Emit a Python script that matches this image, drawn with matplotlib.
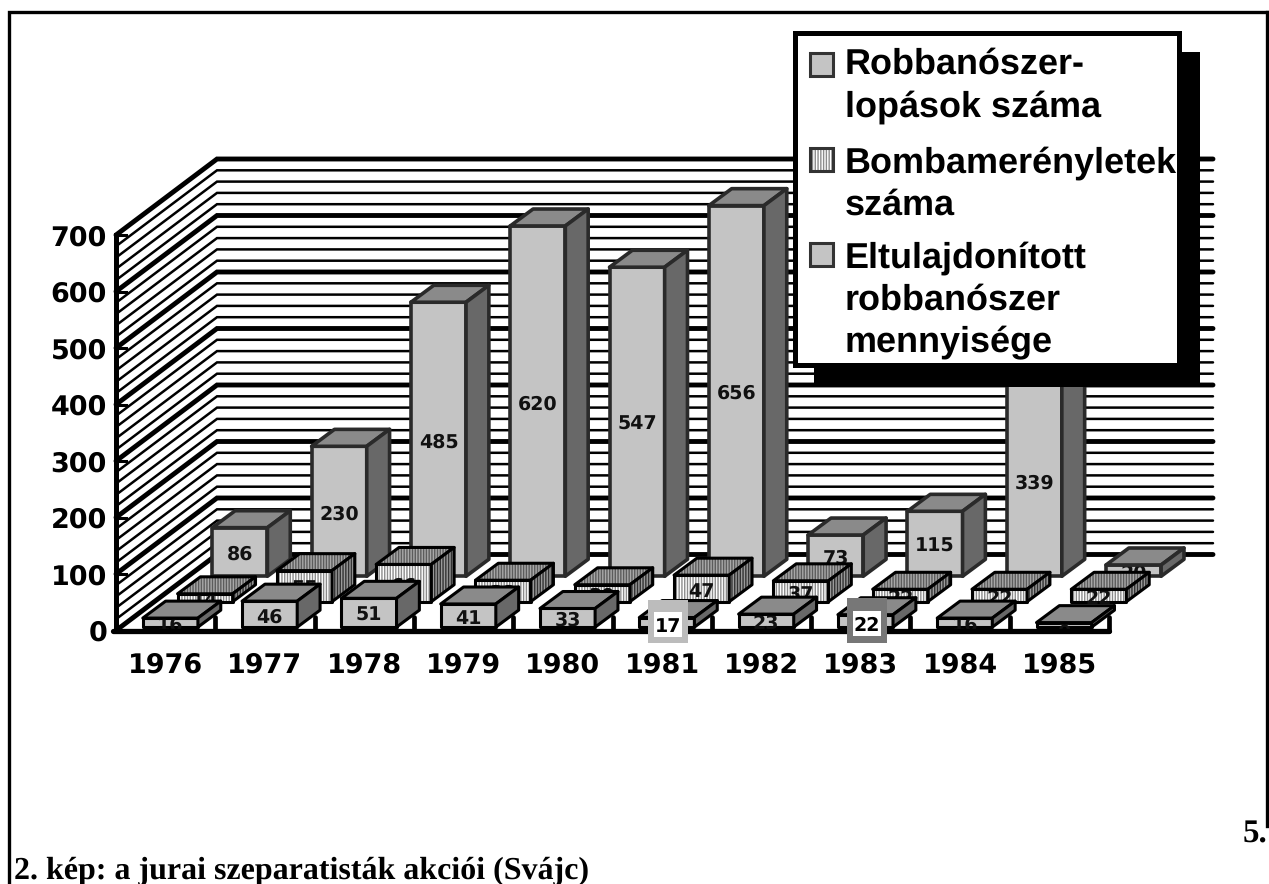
"""Jura separatist actions chart: hand built 3D-style bars on a sheared wall."""

import matplotlib
matplotlib.use("Agg")
import matplotlib.pyplot as plt
from matplotlib.patches import Polygon, Rectangle
from matplotlib.transforms import Affine2D

W, H = 1269, 884

years = ["1976", "1977", "1978", "1979", "1980", "1981", "1982", "1983", "1984", "1985"]
thefts = [16, 46, 51, 41, 33, 17, 23, 22, 16, 8]
bombings = [14, 55, 66, 38, 30, 47, 37, 22, 22, 22]
stolen = [86, 230, 485, 620, 547, 656, 73, 115, 339, 20]
y_ticks = [0, 100, 200, 300, 400, 500, 600, 700]
grid_values = list(range(0, 701, 20))
legend_labels = ["Robbanószer-\nlopások száma", "Bombamerényletek\nszáma",
                 "Eltulajdonított\nrobbanószer\nmennyisége"]

# axis scale: pixels per category / per value, and where the origin sits
X0, Y0 = 116, 630.5
PX_CAT, PX_VAL = 99.3, 0.565
WALL_DX, WALL_DY = 101 / PX_CAT, 76 / PX_VAL
BAR_W = 0.555
BAR_OFF = 0.27
ROW_DX, ROW_DY = 0.35, 45
BASE_Y = 6
SIDE_DX, SIDE_DY = 0.23, 30

plt.rcParams["font.family"] = ["Liberation Sans", "DejaVu Sans"]
plt.rcParams["font.weight"] = "bold"
plt.rcParams["hatch.linewidth"] = 1.0
plt.rcParams["text.hinting"] = "no_hinting"
plt.rcParams["text.hinting_factor"] = 1

# the original numbers are widely tracked, DejaVu bold comes closest in width
number_font = ["DejaVu Sans"]

fig = plt.figure(figsize=(W / 100, H / 100), dpi=100, facecolor="white")
ax = fig.add_axes([0, 0, 1, 1])
ax.set_xlim(-X0 / PX_CAT, (W - X0) / PX_CAT)
ax.set_ylim((Y0 - H) / PX_VAL, Y0 / PX_VAL)
ax.axis("off")

# pixel coordinates with y running downwards, for layout things
px = Affine2D().scale(1, -1).translate(0, H)

z = [10]


def next_z():
    z[0] += 1
    return z[0]


def face(pts, fc, hatch_color=None, hatch=None, edge="black", lw=2.2):
    zz = next_z()
    ax.add_patch(Polygon(pts, closed=True, facecolor=fc, edgecolor=hatch_color or fc,
                         hatch=hatch, linewidth=0, zorder=zz))
    ax.add_patch(Polygon(pts, closed=True, fill=False, edgecolor=edge, linewidth=lw,
                         joinstyle="round", zorder=zz + 0.5))


def bar(cat, row, val, style, edge="black", lw=2.2):
    x = cat + BAR_OFF + row * ROW_DX
    y = BASE_Y + row * ROW_DY
    x2 = x + BAR_W
    top = y + val
    face([(x, y), (x2, y), (x2, top), (x, top)], *style["front"], edge=edge, lw=lw)
    # label sits a little under the middle of the front face
    ax.text(x + BAR_W / 2, y + val / 2 - 3 / PX_VAL, str(val), ha="center", va="center",
            family=number_font, fontsize=13.5, color="#111111", zorder=next_z())
    dx, dy = SIDE_DX, SIDE_DY
    face([(x, top), (x2, top), (x2 + dx, top + dy), (x + dx, top + dy)], *style["top"], edge=edge, lw=lw)
    face([(x2, y), (x2 + dx, y + dy), (x2 + dx, top + dy), (x2, top)], *style["side"], edge=edge, lw=lw)


stripes = "||||||"
plain_style = {
    "front": ("#c4c4c4", None, None),
    "top": ("#8a8a8a", None, None),
    "side": ("#686868", None, None),
}
stripe_style = {
    "front": ("white", "#8c8c8c", stripes),
    "top": ("#a8a8a8", "#5c5c5c", stripes),
    "side": ("#9a9a9a", "#333333", stripes),
}

# frame round the page
ax.plot([8.5, 8.5, W - 2], [H, 11.5, 11.5], color="black", lw=2.4, transform=px,
        solid_joinstyle="miter", zorder=1)
ax.plot([W - 2, W - 2], [11.5, 826], color="black", lw=2.4, transform=px, zorder=1)

# wall and side wall grid
wall_end = (1213 - X0) / PX_CAT
for v in grid_values:
    major = v % 100 == 0
    ax.plot([0, WALL_DX, wall_end], [v, v + WALL_DY, v + WALL_DY], color="black",
            lw=3.5 if major else 1.8, solid_capstyle="round", solid_joinstyle="miter", zorder=2)

# y axis with its ticks and labels
ax.plot([0, 0], [0, y_ticks[-1]], color="black", lw=3.6, zorder=3)
for v in y_ticks:
    ax.plot([0, 0.1], [v, v], color="black", lw=2.2, zorder=3)
    ax.annotate(str(v), (0, v), xytext=(-9, -3), textcoords="offset pixels", ha="right", va="center",
                family=number_font, fontsize=19.5, zorder=3)

# bars, back row first
for i, val in enumerate(stolen):
    bar(i, 2, val, plain_style, edge="#2a2a2a", lw=2.6)
for i, val in enumerate(bombings):
    bar(i, 1, val, stripe_style)
for i, val in enumerate(thefts):
    bar(i, 0, val, plain_style)

# x axis on top of the bars' feet
ax.plot([-0.03, len(years)], [0, 0], color="black", lw=3.8, solid_capstyle="round", zorder=next_z())
for i in range(len(years)):
    ax.plot([i + 1, i + 1], [0, 24], color="black", lw=3.4, solid_capstyle="round", zorder=next_z())
for i, name in enumerate(years):
    ax.text(i + 0.5, -62, name, ha="center", va="center", family=number_font, fontsize=19.5, zorder=next_z())

# the two boxed labels
for i, col, (bx, by, bw, bh), (ix, iy, iw, ih) in [
    (5, "#bcbcbc", (648, 600, 40, 43), (654, 612, 28, 25)),
    (7, "#777777", (847, 598, 40, 45), (853, 611, 28, 25)),
]:
    zz = next_z()
    ax.add_patch(Rectangle((bx, by), bw, bh, color=col, lw=0, transform=px, zorder=zz))
    ax.add_patch(Rectangle((ix, iy), iw, ih, color="white", lw=0, transform=px, zorder=zz + 0.1))
    ax.text(ix + iw / 2, iy + ih / 2 + 2, str(thefts[i]), ha="center", va="center", family=number_font,
            fontsize=13.5, transform=px, zorder=zz + 0.2)

# legend with its drop shadow
zz = next_z()
ax.add_patch(Rectangle((814, 52), 386, 335, color="black", lw=0, transform=px, zorder=zz))
ax.add_patch(Rectangle((794.5, 32.5), 384, 332, facecolor="white", edgecolor="black", lw=3.6,
                       transform=px, zorder=zz + 0.1))
marker_y = [52, 147, 242]
text_y = [48, 146, 241]
leg_style = [plain_style, stripe_style, plain_style]
for my, ty, label, style in zip(marker_y, text_y, legend_labels, leg_style):
    fc, hc, hatch = style["front"]
    ax.add_patch(Rectangle((810, my + 1), 23, 23, facecolor=fc, edgecolor=hc or fc, hatch=hatch, lw=0,
                           transform=px, zorder=zz + 0.2))
    ax.add_patch(Rectangle((810, my + 1), 23, 23, fill=False, edgecolor="#333333", lw=2.2,
                           transform=px, zorder=zz + 0.25))
    ax.text(845, ty, label, ha="left", va="top", fontsize=25.9, linespacing=1.33, transform=px,
            zorder=zz + 0.3)

# page text around the chart
serif = ["Liberation Serif", "DejaVu Serif"]
ax.text(14, 879, "2. kép: a jurai szeparatisták akciói (Svájc)", family=serif, fontsize=23,
        ha="left", va="baseline", transform=px, zorder=1)
ax.text(1243, 843, "5.", family=serif, fontsize=24, ha="left", va="baseline", transform=px, zorder=1)

fig.savefig("out.png", dpi=100)
